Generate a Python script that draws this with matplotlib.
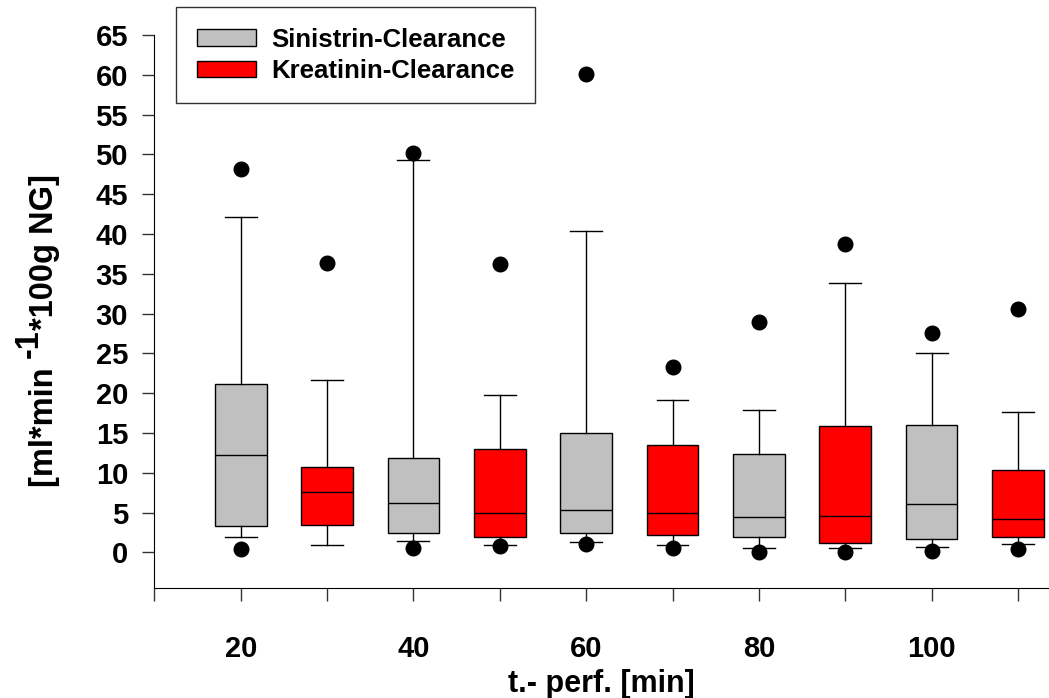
import matplotlib.pyplot as plt
from matplotlib.patches import Patch

plt.rcParams['font.family'] = ['Liberation Sans', 'DejaVu Sans']
plt.rcParams['font.weight'] = 'bold'

# Zeitpunkte (min) und Boxplot-Kennwerte, abwechselnd Sinistrin / Kreatinin
positions = [20, 30, 40, 50, 60, 70, 80, 90, 100, 110]
q1 = [3.3, 3.5, 2.5, 1.9, 2.4, 2.2, 2.0, 1.2, 1.7, 1.9]
median = [12.3, 7.6, 6.2, 4.9, 5.3, 5.0, 4.4, 4.6, 6.1, 4.2]
q3 = [21.1, 10.7, 11.9, 13.0, 15.0, 13.5, 12.4, 15.9, 16.0, 10.3]
whis_lo = [1.9, 0.9, 1.4, 0.9, 1.3, 0.9, 0.6, 0.5, 0.7, 1.0]
whis_hi = [42.1, 21.7, 49.3, 19.8, 40.4, 19.1, 17.9, 33.8, 25.0, 17.6]
fliers = [[48.2, 0.4], [36.4], [50.2, 0.5], [36.2, 0.8], [60.1, 1.0],
          [23.3, 0.6], [28.9, 0.0], [38.8, 0.0], [27.6, 0.2], [30.6, 0.4]]
colors = ['#c0c0c0', '#ff0000'] * 5
labels = ['Sinistrin-Clearance', 'Kreatinin-Clearance']

stats = []
for i in range(len(positions)):
    stats.append({'med': median[i], 'q1': q1[i], 'q3': q3[i],
                  'whislo': whis_lo[i], 'whishi': whis_hi[i],
                  'fliers': fliers[i]})

W, H = 1049, 698
fig = plt.figure(figsize=(W / 100, H / 100), dpi=100)
ax = fig.add_axes([0.1472, 0.1572, 0.8528, 0.7927])

bp = ax.bxp(stats, positions=positions, widths=6, capwidths=3.7,
            patch_artist=True,
            boxprops=dict(edgecolor='black', linewidth=1),
            medianprops=dict(color='black', linewidth=1),
            whiskerprops=dict(color='black', linewidth=1),
            capprops=dict(color='black', linewidth=1),
            flierprops=dict(marker='o', markerfacecolor='black',
                            markeredgecolor='black', markersize=10.5))
for box, c in zip(bp['boxes'], colors):
    box.set_facecolor(c)

ax.set_xlim(10, 113.6)
ax.set_ylim(-4.5, 65)
ax.set_xticks([20, 40, 60, 80, 100])
ax.set_xticks([10, 30, 50, 70, 90, 110], minor=True)
ax.set_xticklabels(['20', '40', '60', '80', '100'])
ax.set_yticks(range(0, 70, 5))
ax.tick_params(axis='both', which='both', direction='out', length=9,
               width=1, color='#333333', labelsize=21)
ax.tick_params(axis='x', which='major', pad=25)
ax.tick_params(axis='y', pad=10)
ax.spines['top'].set_visible(False)
ax.spines['right'].set_visible(False)

ax.set_xlabel('t.- perf. [min]', fontsize=22, fontweight='bold', labelpad=4)

# y-Achsentitel in drei Teilen, damit der Exponent gleich groß bleibt
r = fig.canvas.get_renderer()
x0, y0 = 53, H - 487
kw = dict(rotation=90, rotation_mode='anchor', ha='left', va='baseline',
          fontsize=23.5, fontweight='bold')
t1 = fig.text(x0 / W, y0 / H, '[ml*min ', **kw)
y1 = t1.get_window_extent(r).y1
t2 = fig.text((x0 - 15) / W, y1 / H, '-1', **kw)
y2 = t2.get_window_extent(r).y1
fig.text(x0 / W, y2 / H, '*100g NG]', **kw)

handles = [Patch(facecolor=colors[0], edgecolor='black', linewidth=1),
           Patch(facecolor=colors[1], edgecolor='black', linewidth=1)]
leg = fig.legend(handles, labels, loc='upper left',
                 bbox_to_anchor=(176 / W, 1 - 7 / H),
                 fontsize=18.5, frameon=True, fancybox=False,
                 edgecolor='black', handlelength=2.3, handleheight=0.6,
                 handletextpad=0.6, labelspacing=0.28, borderpad=0.8,
                 borderaxespad=0)
leg.get_frame().set_linewidth(1)

fig.savefig('out.png', dpi=100)
